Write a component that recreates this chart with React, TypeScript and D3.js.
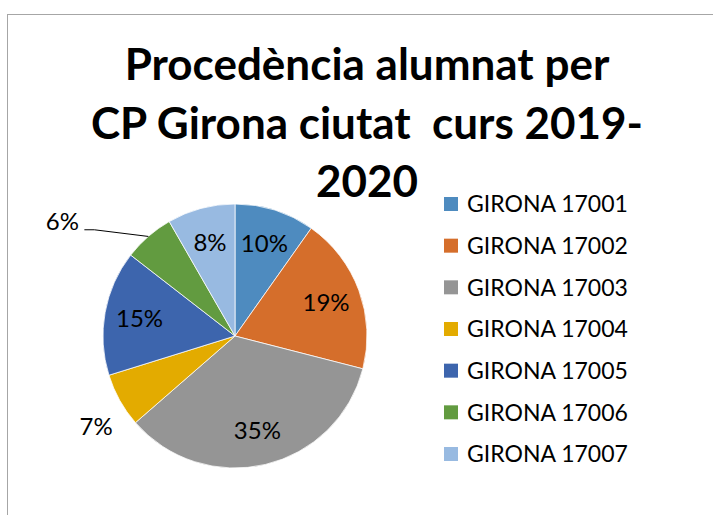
import React from "react";
import * as d3 from "d3";

const categories = [
  "GIRONA 17001",
  "GIRONA 17002",
  "GIRONA 17003",
  "GIRONA 17004",
  "GIRONA 17005",
  "GIRONA 17006",
  "GIRONA 17007",
];
const shares = [9.8, 19.2, 34.6, 6.6, 15.3, 6.2, 8.3];
const sliceColors = ["#4E8BBF", "#D56E2B", "#959595", "#E3AB00", "#3D65AD", "#629B40", "#98BAE1"];
const titleLines = ["Procedència alumnat per", "CP Girona ciutat  curs 2019-", "2020"];

const W = 713;
const H = 515;
const FONT = "Lato, 'Open Sans', sans-serif";

export default function App() {
  const cx = 235;
  const cy = 336;
  const R = 132;
  const total = d3.sum(shares);
  const pie = d3.pie<number>().sort(null).value((d) => d)(shares);
  const arc = d3.arc<d3.PieArcDatum<number>>().innerRadius(0).outerRadius(R);
  const labelArc = d3.arc<d3.PieArcDatum<number>>().innerRadius(97).outerRadius(97);
  const fmt = (v: number) => `${Math.round((v / total) * 100)}%`;

  const polar = (angle: number, r: number): [number, number] => [
    r * Math.sin(angle),
    -r * Math.cos(angle),
  ];

  const outside = new Set([3, 5]);
  const LABEL_FS = 24;

  const legendY = d3.scalePoint<string>().domain(categories).range([204, 454]);

  return (
    <div style={{ position: "absolute", left: 0, top: 0 }}>
      <svg width={W} height={H} style={{ display: "block", background: "#fff" }}>
        <rect x={7.5} y={14.5} width={W + 20} height={H + 20} fill="#fff" stroke="#A6A6A6" strokeWidth={1} />
        <g fontFamily={FONT} fontWeight={700} fontSize={44} textAnchor="middle" fill="#000">
          {titleLines.map((t, i) => (
            <text key={i} x={367} y={80 + i * 58.5} style={{ whiteSpace: "pre" }}>
              {t}
            </text>
          ))}
        </g>
        <g transform={`translate(${cx},${cy})`}>
          {pie.map((p, i) => (
            <path key={i} d={arc(p) as string} fill={sliceColors[i]} stroke="#fff" strokeWidth={0.75} />
          ))}
          {pie.map((p, i) => {
            if (outside.has(i)) return null;
            const [lx, ly] = labelArc.centroid(p);
            return (
              <text key={i} x={lx} y={ly} dy="0.36em" textAnchor="middle" fontFamily={FONT} fontSize={LABEL_FS} fill="#000">
                {fmt(p.value)}
              </text>
            );
          })}
          {(() => {
            const p = pie[3];
            const mid = (p.startAngle + p.endAngle) / 2;
            const [lx, ly] = polar(mid - 0.07, 166);
            return (
              <text x={lx} y={ly} dy="0.36em" textAnchor="middle" fontFamily={FONT} fontSize={LABEL_FS} fill="#000">
                {fmt(p.value)}
              </text>
            );
          })()}
          {(() => {
            const p = pie[5];
            const mid = (p.startAngle + p.endAngle) / 2;
            const [ex, ey] = polar(mid, R);
            const [lx, ly] = polar(mid - 0.27, 207);
            const startX = lx + 22;
            const startY = ly + 8;
            return (
              <g>
                <polyline
                  points={`${startX},${startY} ${startX + 10},${startY} ${ex},${ey}`}
                  fill="none"
                  stroke="#000"
                  strokeWidth={1}
                />
                <text x={lx} y={ly} dy="0.36em" textAnchor="middle" fontFamily={FONT} fontSize={LABEL_FS} fill="#000">
                  {fmt(p.value)}
                </text>
              </g>
            );
          })()}
        </g>
        <g fontFamily={FONT} fontSize={23} fill="#000">
          {categories.map((c, i) => (
            <g key={c} transform={`translate(0,${legendY(c)})`}>
              <rect x={444} y={-7} width={14} height={14} fill={sliceColors[i]} />
              <text x={467} y={0} dy="0.36em">
                {c}
              </text>
            </g>
          ))}
        </g>
      </svg>
    </div>
  );
}
